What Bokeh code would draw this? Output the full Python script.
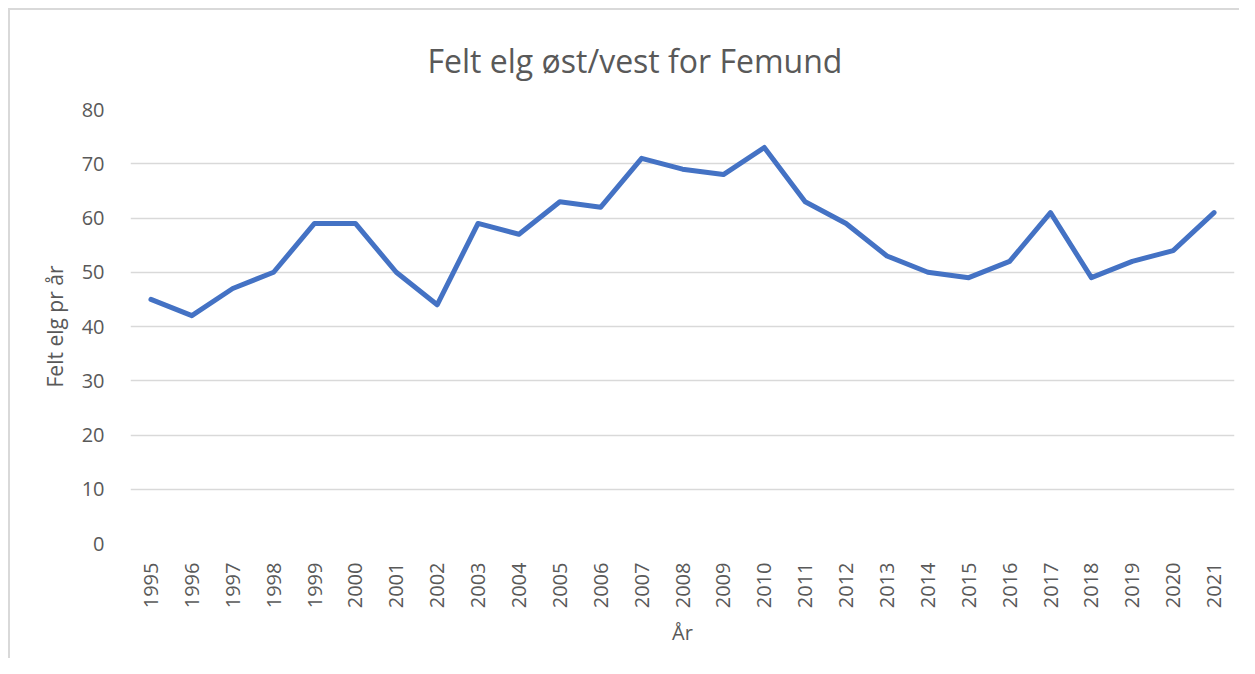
import math
from bokeh.plotting import figure
from bokeh.embed import file_html
from bokeh.resources import INLINE
from bokeh.models import FixedTicker, ColumnDataSource

years = [str(y) for y in range(1995, 2022)]
felt = [45, 42, 47, 50, 59, 59, 50, 44, 59, 57, 63, 62, 71, 69, 68, 73,
        63, 59, 53, 50, 49, 52, 61, 49, 52, 54, 61]
y_ticks = [0, 10, 20, 30, 40, 50, 60, 70, 80]
title_text = "Felt elg øst/vest for Femund"

FONT = "Open Sans"
GREY = "#595959"

src = ColumnDataSource(dict(year=years, felt=felt))

p = figure(width=1231, height=650, x_range=years, y_range=(0, 80),
           output_backend="svg", toolbar_location=None,
           title=title_text,
           min_border_left=120, min_border_right=7,
           min_border_top=99, min_border_bottom=117)

p.styles = {"border-top": "2px solid #d9d9d9", "border-left": "2px solid #d9d9d9",
            "margin-left": "8px", "margin-top": "8px"}

p.title.text_font = FONT
p.title.text_font_size = "32px"
p.title.text_font_style = "normal"
p.title.text_color = GREY
p.title.align = "left"
p.title.offset = 297
p.title.vertical_align = "top"
p.title.standoff = 52

p.line("year", "felt", source=src, line_color="#4472C4", line_width=5,
       line_join="round", line_cap="round")

p.outline_line_color = None
p.xgrid.grid_line_color = None
p.ygrid.grid_line_color = "#d9d9d9"
p.ygrid.grid_line_width = 1.5
p.yaxis.ticker = FixedTicker(ticks=y_ticks)

for ax in (p.xaxis[0], p.yaxis[0]):
    ax.axis_line_color = None
    ax.major_tick_line_color = None
    ax.minor_tick_line_color = None
    ax.major_label_text_font = FONT
    ax.major_label_text_font_size = "20px"
    ax.major_label_text_color = GREY
    ax.axis_label_text_font = FONT
    ax.axis_label_text_font_size = "20px"
    ax.axis_label_text_font_style = "normal"
    ax.axis_label_text_color = GREY

p.yaxis.axis_label_text_font_size = "21px"
p.xaxis.major_label_orientation = math.pi / 2
p.xaxis.major_label_standoff = 13
p.yaxis.major_label_standoff = 20
p.xaxis.axis_label = "År"
p.yaxis.axis_label = "Felt elg pr år"
p.xaxis.axis_label_standoff = 8
p.yaxis.axis_label_standoff = 10

p.x_range.range_padding = 0

open("out.html", "w").write(file_html(p, INLINE))
